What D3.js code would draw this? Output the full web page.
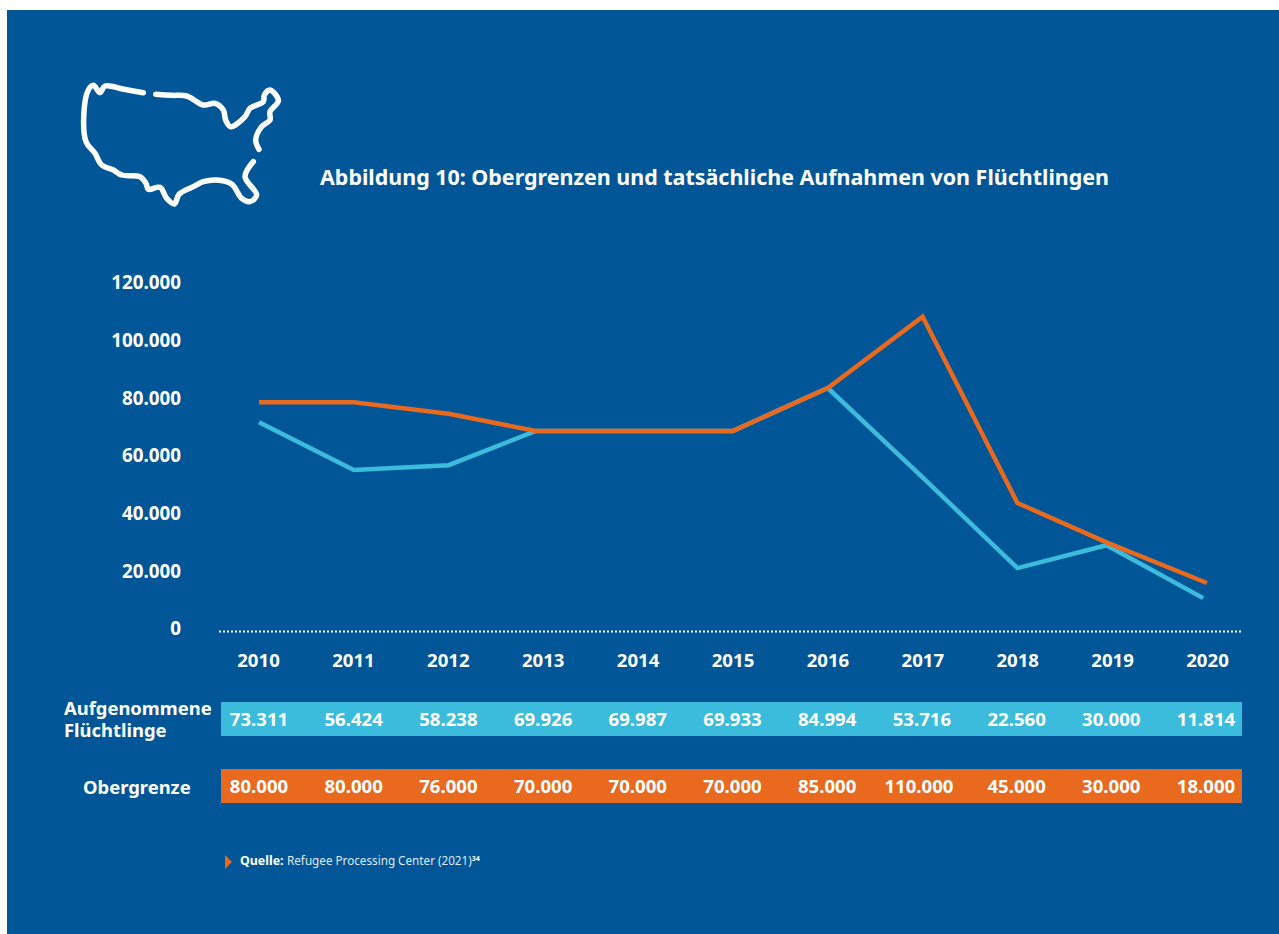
<!DOCTYPE html>
<html><head><meta charset="utf-8">
<script src="https://cdn.jsdelivr.net/npm/d3@7"></script>
<style>html,body{margin:0;padding:0;background:#fff}svg{display:block}text{font-family:"Noto Sans","Open Sans",sans-serif;fill:#fff}</style>
</head><body><div id="chart"></div>
<script>
const years=[2010,2011,2012,2013,2014,2015,2016,2017,2018,2019,2020];
const accepted=[73311,56424,58238,69926,69987,69933,84994,53716,22560,30000,11814];
const ceiling=[80000,80000,76000,70000,70000,70000,85000,110000,45000,30000,18000];
// Values and year positions as the lines in the picture actually draw them
const acceptedPlot=[73000,56300,58000,70000,70000,70000,85000,53716,22000,30000,11500];
const ceilingPlot=[80000,80000,76000,70000,70000,70000,85000,110000,44800,31000,16800];
const acceptedPlotYears=[2010,2011,2012,2012.92,2014,2015,2016,2017,2018,2018.94,2019.96];
const ceilingPlotYears=[2010,2011,2012,2012.92,2014,2015,2016,2017,2018,2018.94,2020];
const yTicks=[0,20000,40000,60000,80000,100000,120000];
const fmt=v=>d3.format(",")(v).replace(/,/g,".");
const icon1=[[250,68],[192,58],[135,48],[120,68],[100,46],[85,60],[72,125],[78,215],[105,250],[125,285],[160,300],[185,315],[240,320],[258,340],[265,358],[300,352],[320,385],[343,402],[358,372],[400,350],[430,335],[470,330],[515,342],[545,385],[570,395],[590,375],[555,320],[580,275]];
const icon2=[[597,238],[587,210],[605,170],[630,150],[630,125],[655,92],[630,60],[613,75],[610,95],[570,115],[555,140],[512,170],[497,150],[490,120],[465,100],[430,105],[380,78],[335,76],[287,73]];
const W=1279,H=934,BLUE="#005697",CY="#3cbcdc",OR="#e96a1e";
const svg=d3.select("#chart").append("svg").attr("width",W).attr("height",H);
svg.append("rect").attr("x",7).attr("y",10).attr("width",W-7).attr("height",H-10).attr("fill",BLUE);
const ix=d3.scaleLinear().domain([0,720]).range([60,300]),iy=d3.scaleLinear().domain([0,450]).range([70,220]);
const il=d3.line().x(d=>ix(d[0])).y(d=>iy(d[1])).curve(d3.curveCatmullRom);
[icon1,icon2].forEach(p=>svg.append("path").attr("d",il(p)).attr("fill","none").attr("stroke","#fff").attr("stroke-width",5.5).attr("stroke-linecap","round").attr("stroke-linejoin","round"));
svg.append("text").attr("x",320).attr("y",185).attr("font-size",22).attr("font-weight",700).attr("textLength",789).attr("lengthAdjust","spacingAndGlyphs").text("Abbildung 10: Obergrenzen und tatsächliche Aufnahmen von Flüchtlingen");
const xAxisScale=d3.scalePoint().domain(years).range([258,1207]);
const xTable=d3.scalePoint().domain(years).range([259,1206]);
const x=d3.scaleLinear().domain([2010,2020]).range([259,1207]);
const y=d3.scaleLinear().domain([0,120000]).range([631,288]);
const yLabels=d3.scaleLinear().domain([0,120000]).range([628,282]);
// y axis
const gy=svg.append("g").attr("transform","translate(181,0)").call(d3.axisLeft(yLabels).tickValues(yTicks).tickFormat(fmt).tickSize(0).tickPadding(0));
gy.select(".domain").remove();
gy.selectAll("text").attr("font-size",18.8).attr("font-weight",700).attr("dy","0.36em");
// baseline
svg.append("line").attr("x1",219).attr("x2",1243).attr("y1",y(0)+.5).attr("y2",y(0)+.5).attr("stroke","#fff").attr("stroke-width",2).attr("stroke-dasharray","2 2");
// x axis
const gx=svg.append("g").attr("transform","translate(0,660)").call(d3.axisBottom(xAxisScale).tickSize(0).tickPadding(0).tickFormat(d3.format("d")));
gx.select(".domain").remove();
gx.selectAll("text").attr("font-size",18.6).attr("font-weight",700).attr("dy","0.36em");
// lines
[[acceptedPlot,acceptedPlotYears,CY],[ceilingPlot,ceilingPlotYears,OR]].forEach(([s,ys,c])=>svg.append("path").datum(s)
 .attr("d",d3.line().x((d,i)=>x(ys[i])).y(d=>y(d))).attr("fill","none").attr("stroke",c).attr("stroke-width",4.5).attr("stroke-linejoin","miter"));
// table rows
[[accepted,CY,702],[ceiling,OR,769]].forEach(([s,c,top])=>{
 svg.append("rect").attr("x",221).attr("y",top).attr("width",1021).attr("height",34).attr("fill",c);
 svg.append("g").selectAll("text").data(s).join("text").attr("x",(d,i)=>xTable(years[i])-(d>=100000?3:0)).attr("y",top+17).attr("dy","0.36em").attr("text-anchor","middle").attr("font-size",18.6).attr("font-weight",700).text(fmt);
});
const lab=svg.append("g").attr("font-size",18.4).attr("font-weight",700);
const two=lab.append("text").attr("y",715);
two.append("tspan").attr("x",64).text("Aufgenommene");
two.append("tspan").attr("x",64).attr("dy",22).text("Flüchtlinge");
lab.append("text").attr("x",83).attr("y",794).text("Obergrenze");
// source
svg.append("path").attr("d",d3.line()([[225,855],[232,862],[225,869]])+"Z").attr("fill",OR);
const src=svg.append("text").attr("x",240).attr("y",865).attr("font-size",12.4);
src.append("tspan").attr("font-weight",700).text("Quelle:");
src.append("tspan").attr("x",287).attr("fill-opacity",.9).attr("font-size",11.7).text("Refugee Processing Center (2021)");
src.append("tspan").attr("font-size",7).attr("font-weight",700).attr("dy",-4).text("34");
</script></body></html>
